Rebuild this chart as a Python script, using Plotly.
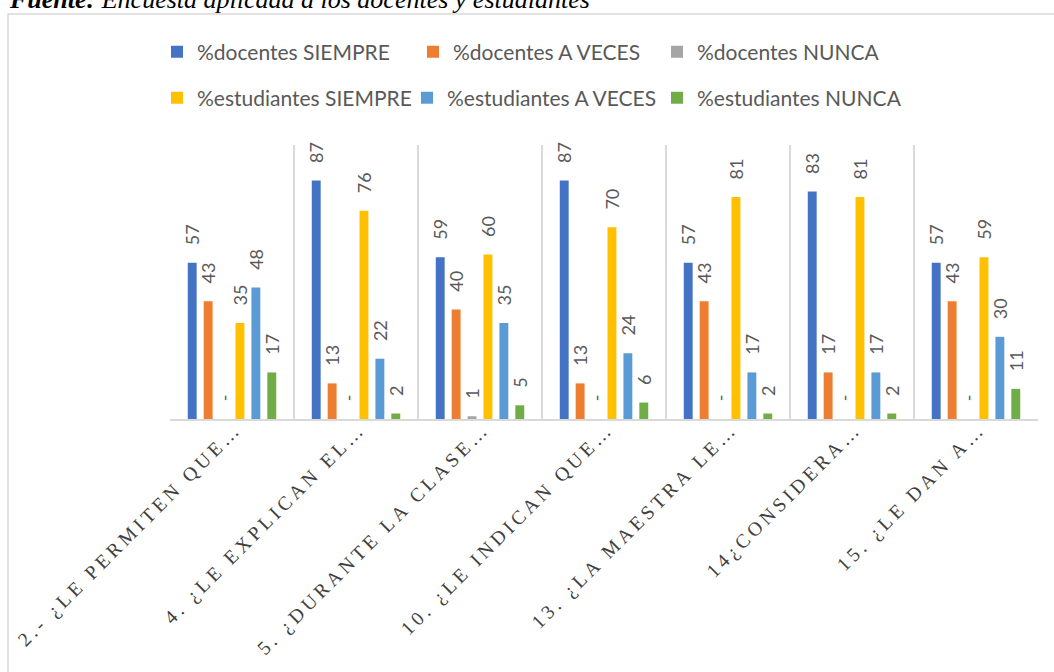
import plotly.graph_objects as go

categories = [
    "2.- ¿LE PERMITEN QUE…",
    "4. ¿LE EXPLICAN EL…",
    "5. ¿DURANTE LA CLASE…",
    "10. ¿LE INDICAN QUE…",
    "13. ¿LA MAESTRA LE…",
    "14¿CONSIDERA…",
    "15. ¿LE DAN A…",
]
series_names = [
    "%docentes SIEMPRE", "%docentes A VECES", "%docentes NUNCA",
    "%estudiantes SIEMPRE", "%estudiantes A VECES", "%estudiantes NUNCA",
]
doc_siempre = [57, 87, 59, 87, 57, 83, 57]
doc_aveces = [43, 13, 40, 13, 43, 17, 43]
doc_nunca = [0, 0, 1, 0, 0, 0, 0]
est_siempre = [35, 76, 60, 70, 81, 81, 59]
est_aveces = [48, 22, 35, 24, 17, 17, 30]
est_nunca = [17, 2, 5, 6, 2, 2, 11]
series_values = [doc_siempre, doc_aveces, doc_nunca, est_siempre, est_aveces, est_nunca]
colors = ["#4472C4", "#ED7D31", "#A5A5A5", "#FFC000", "#5B9BD5", "#70AD47"]
title_bold = "Fuente:"
title_rest = " Encuesta aplicada a los docentes y estudiantes"

W, H = 1054, 672
L, R, T, B = 170, 16, 145, 253
pw, ph = W - L - R, H - T - B

def px(x):
    return (x - L) / pw

def py(y):
    return (H - B - y) / ph

# legend item positions (square left x, row center y) in screen pixels
legend_pos = [(173, 52), (429, 52), (673, 52), (173, 98), (423, 98), (673, 98)]

tick_text = ['<span style="letter-spacing:3.9px">%s</span>' % c for c in categories]

fig = go.Figure()
legend_layouts = {}
for i, (name, vals, col) in enumerate(zip(series_names, series_values, colors)):
    labels = ["\u2003\u200a-" if v == 0 else "\u2003\u200a%d" % v for v in vals]
    lname = "legend" if i == 0 else "legend%d" % (i + 1)
    fig.add_trace(go.Bar(
        x=categories, y=vals, name=name, marker_color=col,
        marker_line_width=0,
        text=labels, textposition="outside", textangle=-90,
        constraintext="none", cliponaxis=False,
        outsidetextfont=dict(family="Lato", size=18, color="#595959"),
        legend=lname,
    ))
    sx, sy = legend_pos[i]
    legend_layouts[lname] = dict(
        orientation="h", x=px(sx - 16), y=py(sy), xanchor="left", yanchor="middle",
        font=dict(family="Lato", size=21, color="#595959"), bgcolor="rgba(0,0,0,0)")

fig.update_layout(
    width=W, height=H,
    margin=dict(l=L, r=R, t=T, b=B, autoexpand=False),
    paper_bgcolor="white", plot_bgcolor="white",
    barmode="group", bargap=0.23, bargroupgap=0.44,
    showlegend=True,
    xaxis=dict(type="category", tickson="boundaries", showgrid=True, automargin=False,
               gridcolor="#D9D9D9", gridwidth=1.5, showline=True, linecolor="#D9D9D9",
               linewidth=1.5, ticks="", tickangle=-45,
               tickvals=categories, ticktext=tick_text,
               ticklabelstandoff=-11, ticklabelshift=4,
               tickfont=dict(family="Liberation Serif", size=19.5, color="#404040")),
    yaxis=dict(range=[0, 100], visible=False, automargin=False),
    shapes=[dict(type="rect", xref="paper", yref="paper",
                 x0=px(8), x1=px(1070), y0=py(690), y1=py(14),
                 line=dict(color="#D9D9D9", width=1.5), fillcolor="rgba(0,0,0,0)", layer="below")],
    annotations=[dict(xref="paper", yref="paper", x=px(7), y=py(16), xanchor="left", yanchor="bottom",
                      text="<b><i>%s</i></b><i>%s</i>" % (title_bold, title_rest), showarrow=False,
                      font=dict(family="Liberation Serif", size=26, color="#000000"))],
    **legend_layouts,
)

fig.write_html("out.html", config={"displayModeBar": False},
               post_script="document.body.style.margin='0';")
